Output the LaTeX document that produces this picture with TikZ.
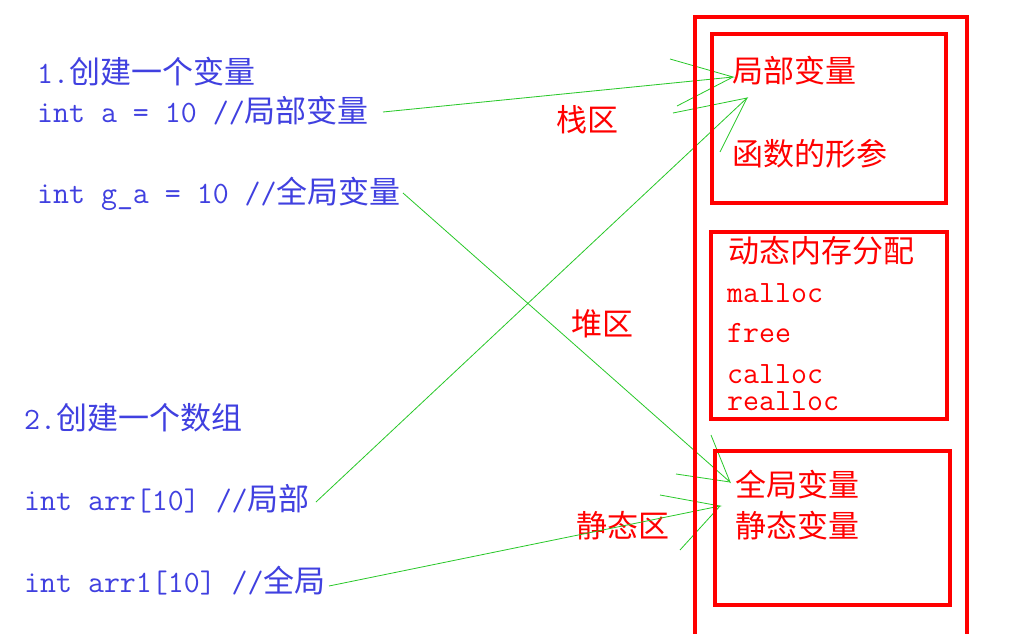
\documentclass[tikz,border=0pt]{standalone}
\usepackage{fontspec}
\newfontfamily\cjk{Noto Sans CJK SC}
\definecolor{codeblue}{RGB}{64,64,224}
\definecolor{memred}{RGB}{255,0,0}
\definecolor{linkgreen}{RGB}{40,200,40}
\newcommand{\zh}[1]{{\cjk #1}}
\tikzset{
  codetext/.style={anchor=base west, text=codeblue, inner sep=0pt, font=\ttfamily\fontsize{31}{31}\selectfont},
  memtext/.style={anchor=base west, text=memred, inner sep=0pt, font=\ttfamily\fontsize{31}{31}\selectfont},
  outerbox/.style={draw=memred, line width=4.5pt},
  regionbox/.style={draw=memred, line width=4pt},
  link/.style={draw=linkgreen, line width=0.8pt},
}
\begin{document}
\begin{tikzpicture}[x=1pt,y=-1pt]
\useasboundingbox (0,0) rectangle (1022,634);
\clip (0,0) rectangle (1022,634);
\fill[white] (0,0) rectangle (1022,634);

% left code texts
\node[codetext] (h1) at (37,83) {1.\zh{创建一个变量}};
\node[codetext] (va) at (37,122) {int a = 10 //\zh{局部变量}};
\node[codetext] (vga) at (37,203) {int g\_a = 10 //\zh{全局变量}};
\node[codetext] (h2) at (24,429) {2.\zh{创建一个数组}};
\node[codetext] (varr) at (24,510) {int arr[10] //\zh{局部}};
\node[codetext] (varr1) at (24,592) {int arr1[10] //\zh{全局}};

% zone labels
\node[memtext] (stack) at (556,131) {\zh{栈区}};
\node[memtext] (heap) at (571,335) {\zh{堆区}};
\node[memtext] (static) at (576,537) {\zh{静态区}};

% connector coordinates
\coordinate (s1) at (383,112);
\coordinate (t1) at (733,77);
\coordinate (h1a) at (670,59);
\coordinate (h1b) at (677,106);
\coordinate (s2) at (316,502);
\coordinate (t2) at (747,98);
\coordinate (h2a) at (673,113);
\coordinate (h2b) at (720,152);
\coordinate (s3) at (403,193);
\coordinate (t3) at (730,482);
\coordinate (h3a) at (711,435);
\coordinate (h3b) at (676,474);
\coordinate (s4) at (329,586);
\coordinate (t4) at (720,506);
\coordinate (h4a) at (660,495);
\coordinate (h4b) at (680,550);

\draw[link] (s1) -- (t1) -- (h1a); \draw[link] (t1) -- (h1b);
\draw[link] (s2) -- (t2) -- (h2a); \draw[link] (t2) -- (h2b);
\draw[link] (s3) -- (t3) -- (h3a); \draw[link] (t3) -- (h3b);
\draw[link] (s4) -- (t4) -- (h4a); \draw[link] (t4) -- (h4b);

% memory boxes
\draw[outerbox] (695,17) rectangle (967,660);
\draw[regionbox] (712,34) rectangle (946,203);
\draw[regionbox] (711,232) rectangle (947,419);
\draw[regionbox] (715,451) rectangle (950,605);

% right texts
\node[memtext] (lv) at (732,82) {\zh{局部变量}};
\node[memtext] (fp) at (732,165) {\zh{函数的形参}};
\node[memtext] (dyn) at (728,262) {\zh{动态内存分配}};
\node[memtext] (malloc) at (727,302) {malloc};
\node[memtext] (free) at (727,342) {free};
\node[memtext] (calloc) at (727,383) {calloc};
\node[memtext] (realloc) at (727,410) {realloc};
\node[memtext] (gv) at (735,496) {\zh{全局变量}};
\node[memtext] (sv) at (735,537) {\zh{静态变量}};
\end{tikzpicture}
\end{document}
